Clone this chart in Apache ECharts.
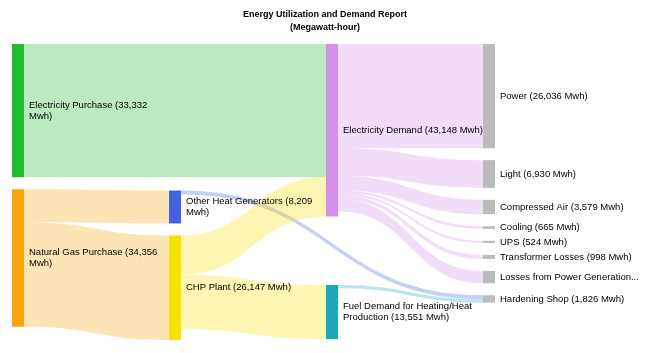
<!DOCTYPE html>
<html>
<head>
<meta charset="utf-8">
<script src="https://cdn.jsdelivr.net/npm/echarts@6/dist/echarts.min.js"></script>
<style>
  html, body { margin: 0; padding: 0; background: #fff; }
  #chart { width: 650px; height: 353px; }
</style>
</head>
<body>
<div id="chart"></div>
<script>
// nodes and their reported totals (Mwh)
const nodeNames = [
  'Electricity Purchase', 'Natural Gas Purchase',
  'Other Heat Generators', 'CHP Plant',
  'Electricity Demand', 'Fuel Demand for Heating/Heat Production',
  'Power', 'Light', 'Compressed Air', 'Cooling', 'UPS',
  'Transformer Losses', 'Losses from Power Generation', 'Hardening Shop'
]
const nodeValues = [33332, 34356, 8209, 26147, 43148, 13551, 26036, 6930, 3579, 665, 524, 998, 3100, 1826]
const nodeDepths = [0, 0, 1, 1, 2, 2, 3, 3, 3, 3, 3, 3, 3, 3]

// flows
const linkSources = [
  'Electricity Purchase', 'Natural Gas Purchase', 'Natural Gas Purchase',
  'Other Heat Generators', 'CHP Plant', 'CHP Plant',
  'Electricity Demand', 'Electricity Demand', 'Electricity Demand', 'Electricity Demand',
  'Electricity Demand', 'Electricity Demand', 'Electricity Demand',
  'Fuel Demand for Heating/Heat Production'
]
const linkTargets = [
  'Electricity Demand', 'Other Heat Generators', 'CHP Plant',
  'Hardening Shop', 'Electricity Demand', 'Fuel Demand for Heating/Heat Production',
  'Power', 'Light', 'Compressed Air', 'Cooling',
  'UPS', 'Transformer Losses', 'Losses from Power Generation',
  'Hardening Shop'
]
const linkValues = [33332, 8209, 26147, 1000, 9816, 13551, 26036, 6930, 3579, 665, 524, 998, 3100, 826]

const nodeColors = {
  'Electricity Purchase': '#20bb30',
  'Natural Gas Purchase': '#f7a50b',
  'Other Heat Generators': '#4363dc',
  'CHP Plant': '#f6e200',
  'Electricity Demand': '#d38fe9',
  'Fuel Demand for Heating/Heat Production': '#19a9b8'
}

// invisible spacers that push columns 1 and 2 down (layout only, not data)
const spacers = [
  { name: '_gap1', depth: 1, value: 33644, before: 'Other Heat Generators' },
  { name: '_gap2', depth: 2, value: 11100, before: 'Fuel Demand for Heating/Heat Production' }
]

const chart = echarts.init(document.getElementById('chart'))

const data = []
nodeNames.forEach((name, i) => {
  spacers.filter(s => s.before === name).forEach(s => {
    data.push({
      name: s.name,
      value: s.value,
      depth: s.depth,
      itemStyle: { opacity: 0 },
      label: { show: false },
      emphasis: { disabled: true },
      tooltip: { show: false }
    })
  })
  const item = {
    name: name,
    value: nodeValues[i],
    depth: nodeDepths[i],
    itemStyle: { color: nodeColors[name] || '#bbbbbb' }
  }
  if (name === 'Losses from Power Generation') {
    item.label = { width: 142, overflow: 'truncate', ellipsis: '...' }
  }
  data.push(item)
})

const links = linkSources.map((s, i) => ({
  source: s,
  target: linkTargets[i],
  value: linkValues[i]
}))

chart.setOption({
  animation: false,
  title: {
    text: 'Energy Utilization and Demand Report\n(Megawatt-hour)',
    left: 'center',
    top: 3,
    textStyle: {
      fontFamily: 'Liberation Sans, Arial, sans-serif',
      fontSize: 9,
      fontWeight: 'bold',
      color: '#000',
      lineHeight: 13
    }
  },
  series: [
    {
      type: 'sankey',
      left: 12,
      top: 44,
      right: 155,
      bottom: 13,
      nodeWidth: 12,
      nodeGap: 12,
      layoutIterations: 0,
      draggable: false,
      data: data,
      links: links,
      itemStyle: { borderWidth: 0 },
      lineStyle: { color: 'source', opacity: 0.3, curveness: 0.5 },
      emphasis: { disabled: true },
      label: {
        position: 'right',
        distance: 5,
        color: '#000',
        fontFamily: 'Liberation Sans, Arial, sans-serif',
        fontSize: 9.5,
        lineHeight: 11,
        width: 142,
        overflow: 'break',
        formatter: function (p) {
          return p.name + ' (' + p.value.toLocaleString('en-US') + ' Mwh)'
        }
      }
    }
  ]
})
</script>
</body>
</html>
